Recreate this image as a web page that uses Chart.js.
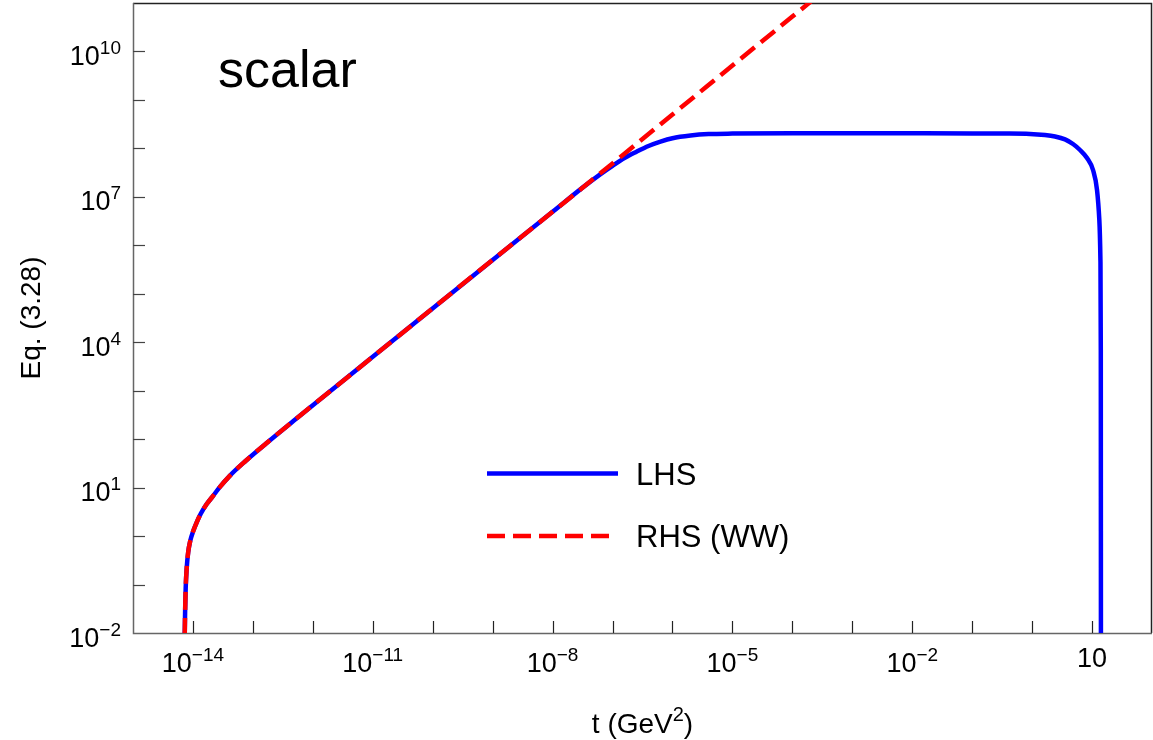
<!DOCTYPE html>
<html>
<head>
<meta charset="utf-8">
<script src="https://cdn.jsdelivr.net/npm/chart.js@4.4.1/dist/chart.umd.min.js"></script>
<style>
html,body{margin:0;padding:0;background:#fff;}
#c{display:block;}
</style>
</head>
<body>
<canvas id="c" width="1153" height="740"></canvas>
<script>
// ---- data ----
// shared low-t part (both curves coincide here)
const lowT   = [7.29e-15, 7.40e-15, 7.57e-15, 7.87e-15, 8.34e-15, 9.00e-15, 1.012e-14, 1.156e-14, 1.349e-14, 1.698e-14, 2.138e-14, 2.80e-14, 4.11e-14, 7.31e-14, 1.68e-13, 4.68e-13, 1e-11, 1e-9];
const lowVal = [0.0087, 0.0271, 0.0849, 0.219, 0.470, 0.79, 1.27, 1.92, 2.88, 4.57, 6.6, 10.2, 17.5, 34.2, 82.4, 234, 5.0e3, 5.0e5];

// LHS continuation
const lhsT   = [1e-8, 3.16e-8, 6.31e-8, 1.0e-7, 1.58e-7, 2.51e-7, 3.98e-7, 6.31e-7, 1e-6, 2e-6, 4e-6, 1e-5, 1e-4, 1e-2, 0.1, 0.316, 0.92, 1.64, 2.41, 3.54, 4.81, 6.30, 8.24, 10.38, 12.10, 13.22, 13.79, 13.99, 14.06];
const lhsVal = [4.9e6, 1.55e7, 2.95e7, 4.37e7, 6.31e7, 8.51e7, 1.12e8, 1.38e8, 1.62e8, 1.84e8, 1.97e8, 2.02e8, 2.05e8, 2.05e8, 2.04e8, 2.02e8, 1.99e8, 1.89e8, 1.76e8, 1.53e8, 1.23e8, 9.27e7, 6.34e7, 3.58e7, 1.39e7, 3.33e6, 5.0e5, 6.9e3, 0.006];

// RHS (WW) continuation
const rhsT   = [1e-8, 1e-7, 1e-6, 1e-5, 1e-4, 1e-3];
const rhsVal = [4.9e6, 4.9e7, 5.0e8, 5.13e9, 5.25e10, 5.37e11];

// axes
const xMin = 1e-15, xMax = 1e2, yMin = 1e-2, yMax = 1e11;
const xTickValues = [1e-14,1e-13,1e-12,1e-11,1e-10,1e-9,1e-8,1e-7,1e-6,1e-5,1e-4,1e-3,1e-2,1e-1,1,1e1];
const yTickValues = [1e-1,1,1e1,1e2,1e3,1e4,1e5,1e6,1e7,1e8,1e9,1e10];
const xLabelValues = [1e-14, 1e-11, 1e-8, 1e-5, 1e-2, 1e1];
const xLabelBase = ['10','10','10','10','10','10'];
const xLabelSup  = ['\u221214','\u221211','\u22128','\u22125','\u22122',''];
const yLabelValues = [1e-2, 1e1, 1e4, 1e7, 1e10];
const yLabelBase = ['10','10','10','10','10'];
const yLabelSup  = ['\u22122','1','4','7','10'];

const seriesNames = ['LHS', 'RHS (WW)'];
const xTitle = ['t (GeV', '2', ')'];
const yTitle = 'Eq. (3.28)';
const panelLabel = 'scalar';

// ---- build datasets ----
function pts(ts, vs){ return ts.map((t,i)=>({x:t, y:vs[i]})); }
const lhsData = pts(lowT, lowVal).concat(pts(lhsT, lhsVal));
const rhsData = pts(lowT, lowVal).concat(pts(rhsT, rhsVal));

const FONT = '"Liberation Sans", Arial, Helvetica, sans-serif';

function drawPow(ctx, base, sup, xStart, baseline, bSize, sSize, supRaise){
  ctx.font = bSize + 'px ' + FONT;
  ctx.textAlign = 'left'; ctx.textBaseline = 'alphabetic';
  ctx.fillText(base, xStart, baseline);
  const wb = ctx.measureText(base).width;
  if (sup) {
    ctx.font = sSize + 'px ' + FONT;
    ctx.fillText(sup, xStart + wb, baseline - supRaise);
  }
}
function powWidth(ctx, base, sup, bSize, sSize){
  ctx.font = bSize + 'px ' + FONT;
  let w = ctx.measureText(base).width;
  if (sup){ ctx.font = sSize + 'px ' + FONT; w += ctx.measureText(sup).width; }
  return w;
}

const decor = {
  id: 'decor',
  beforeDatasetsDraw(chart){
    const {ctx, chartArea:a, scales:{x, y}} = chart;
    ctx.save();
    // frame
    ctx.lineWidth = 1.5;
    ctx.strokeStyle = '#222';
    ctx.beginPath();
    ctx.moveTo(a.left, a.top + 0.5); ctx.lineTo(a.right - 0.5, a.top + 0.5); ctx.lineTo(a.right - 0.5, a.bottom);
    ctx.stroke();
    ctx.strokeStyle = '#666';
    ctx.beginPath();
    ctx.moveTo(a.left + 0.5, a.top); ctx.lineTo(a.left + 0.5, a.bottom + 0.5); ctx.lineTo(a.right, a.bottom + 0.5);
    ctx.stroke();
    // ticks (inward)
    ctx.strokeStyle = '#222';
    ctx.lineWidth = 1.2;
    xTickValues.forEach(v => {
      const px = Math.round(x.getPixelForValue(v)) + 0.5;
      ctx.beginPath(); ctx.moveTo(px, a.bottom); ctx.lineTo(px, a.bottom - 12); ctx.stroke();
    });
    ctx.strokeStyle = '#444';
    yTickValues.forEach(v => {
      const py = Math.round(y.getPixelForValue(v)) + 0.5;
      ctx.beginPath(); ctx.moveTo(a.left, py); ctx.lineTo(a.left + 12, py); ctx.stroke();
    });
    ctx.restore();
  },
  afterDraw(chart){
    const {ctx, chartArea:a, scales:{x, y}} = chart;
    ctx.save();
    ctx.fillStyle = '#000';
    // x tick labels
    xLabelValues.forEach((v, i) => {
      const px = x.getPixelForValue(v);
      const w = powWidth(ctx, xLabelBase[i], xLabelSup[i], 27, 19);
      const bl = xLabelSup[i] ? 672 : 667;
      drawPow(ctx, xLabelBase[i], xLabelSup[i], px - w/2, bl, 27, 19, 11);
    });
    // y tick labels
    yLabelValues.forEach((v, i) => {
      const py = y.getPixelForValue(v);
      const w = powWidth(ctx, yLabelBase[i], yLabelSup[i], 27, 19);
      drawPow(ctx, yLabelBase[i], yLabelSup[i], 121 - w, py + 13.5, 27, 19, 11);
    });
    // x title
    ctx.font = '28px ' + FONT;
    const w1 = ctx.measureText(xTitle[0]).width;
    const w3 = ctx.measureText(xTitle[2]).width;
    ctx.font = '20px ' + FONT;
    const w2 = ctx.measureText(xTitle[1]).width;
    const cx = (a.left + a.right) / 2;
    let sx = cx - (w1 + w2 + w3) / 2;
    ctx.textAlign = 'left'; ctx.textBaseline = 'alphabetic';
    ctx.font = '28px ' + FONT; ctx.fillText(xTitle[0], sx, 733);
    ctx.font = '20px ' + FONT; ctx.fillText(xTitle[1], sx + w1, 721);
    ctx.font = '28px ' + FONT; ctx.fillText(xTitle[2], sx + w1 + w2, 733);
    // y title
    ctx.save();
    ctx.translate(40, (a.top + a.bottom) / 2);
    ctx.rotate(-Math.PI / 2);
    ctx.textAlign = 'center';
    ctx.font = '28px ' + FONT;
    ctx.fillText(yTitle, 0, 0);
    ctx.restore();
    // panel label
    ctx.font = '52px ' + FONT;
    ctx.textAlign = 'left';
    ctx.fillText(panelLabel, 218, 87);
    // legend
    const ds = chart.data.datasets;
    const legY = [473.5, 536];
    const legBase = [485, 547];
    ds.forEach((d, i) => {
      ctx.save();
      ctx.strokeStyle = d.borderColor;
      ctx.lineWidth = d.borderWidth;
      ctx.setLineDash(d.borderDash || []);
      ctx.lineCap = 'butt';
      ctx.beginPath();
      ctx.moveTo(487, legY[i]);
      ctx.lineTo(i === 0 ? 618 : 609.5, legY[i]);
      ctx.stroke();
      ctx.restore();
      ctx.font = '31px ' + FONT;
      ctx.fillStyle = '#000';
      ctx.fillText(d.label, 636, legBase[i]);
    });
    ctx.restore();
  }
};

new Chart(document.getElementById('c'), {
  type: 'scatter',
  data: {
    datasets: [
      { label: seriesNames[0], data: lhsData, showLine: true, borderColor: '#0000ff', backgroundColor: '#0000ff',
        borderWidth: 4.5, pointRadius: 0, cubicInterpolationMode: 'monotone', order: 2 },
      { label: seriesNames[1], data: rhsData, showLine: true, borderColor: '#ff0000', backgroundColor: '#ff0000',
        borderWidth: 4.5, borderDash: [18, 8], pointRadius: 0, cubicInterpolationMode: 'monotone', order: 1 }
    ]
  },
  options: {
    responsive: false,
    animation: false,
    layout: { padding: { top: 3, right: 1, left: 0, bottom: 0 } },
    plugins: { legend: { display: false }, tooltip: { enabled: false } },
    scales: {
      x: { type: 'logarithmic', min: xMin, max: xMax,
           ticks: { display: false }, grid: { display: false, drawTicks: false }, border: { display: false },
           afterFit(s){ s.height = 107; } },
      y: { type: 'logarithmic', min: yMin, max: yMax,
           ticks: { display: false }, grid: { display: false, drawTicks: false }, border: { display: false },
           afterFit(s){ s.width = 133; } }
    }
  },
  plugins: [decor]
});
</script>
</body>
</html>
